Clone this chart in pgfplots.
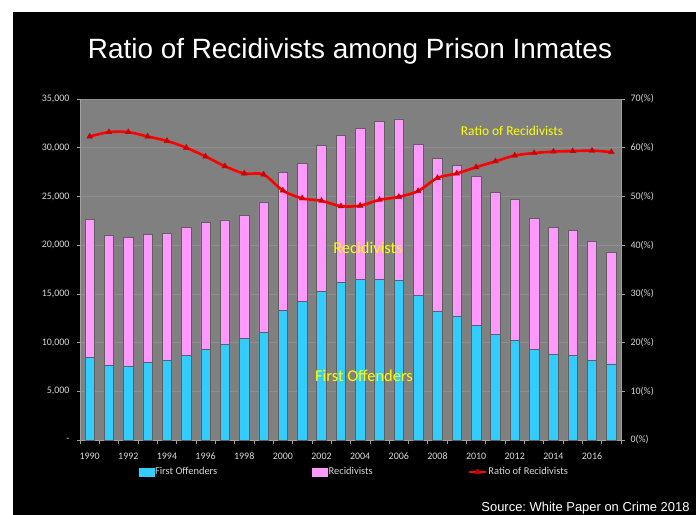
\documentclass[border=0pt]{standalone}
\usepackage{pgfplots}
\pgfplotsset{compat=1.18}
\usepackage{pgfplotstable}
\usepackage{fontspec}
\setmainfont{Carlito}[Numbers=Lining]
\newfontfamily\arialfont{Liberation Sans}
\definecolor{bgplot}{RGB}{128,128,128}
\definecolor{gridc}{RGB}{143,143,143}
\definecolor{fo}{RGB}{51,204,255}
\definecolor{rc}{RGB}{255,153,255}
\definecolor{barline}{RGB}{95,95,95}
\definecolor{lab}{RGB}{215,215,215}
\definecolor{ann}{RGB}{255,255,0}
\definecolor{axc}{RGB}{160,160,160}
\definecolor{ratioc}{RGB}{255,0,0}
\definecolor{markc}{RGB}{200,0,0}

\pgfplotstableread{
year first recid ratio
1990 8490 14160 62.3
1991 7700 13270 63.2
1992 7600 13170 63.2
1993 7940 13200 62.3
1994 8140 13070 61.4
1995 8660 13130 60.0
1996 9310 13060 58.2
1997 9820 12760 56.2
1998 10400 12620 54.7
1999 11050 13380 54.5
2000 13270 14170 51.2
2001 14200 14200 49.6
2002 15290 14920 49.1
2003 16180 15060 48.0
2004 16520 15500 48.1
2005 16520 16150 49.3
2006 16420 16530 49.9
2007 14850 15530 51.1
2008 13240 15630 53.8
2009 12730 15490 54.7
2010 11770 15260 56.0
2011 10810 14570 57.2
2012 10190 14510 58.4
2013 9310 13410 58.9
2014 8790 13070 59.2
2015 8690 12790 59.3
2016 8210 12150 59.4
2017 7800 11470 59.1
}\data

\begin{document}
\begin{tikzpicture}[x=1bp,y=1bp]
\path[use as bounding box] (0,0) rectangle (696,515);
\fill[white] (0,0) rectangle (696,515);
\fill[black] (13,0) rectangle (696,503);
\node[white, font=\arialfont\fontsize{28}{32}\selectfont] at (350,464) {Ratio of Recidivists among Prison Inmates};

\begin{axis}[
  at={(80bp,75bp)}, anchor=south west,
  scale only axis, width=541bp, height=341bp,
  xmin=1989.5, xmax=2017.5, ymin=0, ymax=35000,
  scaled y ticks=false,
  ybar stacked, bar width=9.5bp,
  axis background/.style={fill=bgplot},
  axis x line*=bottom, axis y line*=left,
  axis line style={draw=axc, line width=0.6bp},
  tick align=outside,
  xtick={1990,1992,...,2016},
  xticklabels={1990,1992,1994,1996,1998,2000,2002,2004,2006,2008,2010,2012,2014,2016},
  x tick style={draw=none},
  minor xtick={1989.5,1990.5,...,2017.5},
  minor x tick style={draw=axc, line width=0.6bp},
  minor tick length=4bp,
  major tick length=3bp,
  ytick={0,5000,...,35000},
  yticklabels={-,{5,000},{10,000},{15,000},{20,000},{25,000},{30,000},{35,000}},
  y tick style={draw=axc, line width=0.6bp},
  ymajorgrids, major grid style={draw=gridc, line width=0.6bp},
  ticklabel style={font=\fontsize{10}{12}\selectfont, text=lab},
  xticklabel style={yshift=-6bp, text height=7bp, text depth=1bp},
  yticklabel style={xshift=-4bp},
  clip=false,
]
\addplot[fill=fo, draw=barline, line width=0.6bp] table[x=year,y=first]{\data};
\addplot[fill=rc, draw=barline, line width=0.6bp] table[x=year,y=recid]{\data};
\end{axis}

\begin{axis}[
  at={(80bp,75bp)}, anchor=south west,
  scale only axis, width=541bp, height=341bp,
  xmin=1989.5, xmax=2017.5, ymin=0, ymax=70,
  axis x line=none, axis y line*=right,
  axis line style={draw=axc, line width=0.6bp},
  tick align=outside, major tick length=4bp,
  ytick={0,10,...,70},
  yticklabels={0(\%),10(\%),20(\%),30(\%),40(\%),50(\%),60(\%),70(\%)},
  y tick style={draw=axc, line width=0.6bp},
  ticklabel style={font=\fontsize{10}{12}\selectfont, text=lab},
  yticklabel style={xshift=2bp},
  legend columns=3,
  legend style={at={(0.108,-0.094)}, anchor=west, draw=none, fill=none,
    text=lab, font=\fontsize{10.5}{12}\selectfont, inner sep=0pt,
    nodes={inner sep=1bp},
    /tikz/every even column/.append style={column sep=94bp}},
  legend cell align=left,
  clip=false,
]
\addlegendimage{legend image code/.code={\fill[fo] (0bp,-3.8bp) rectangle (15bp,3.8bp);}}
\addlegendentry{First Offenders}
\addlegendimage{legend image code/.code={\fill[rc] (0bp,-3.8bp) rectangle (15bp,3.8bp);}}
\addlegendentry{Recidivists}
\addplot[ratioc, line width=2.6bp, smooth, mark=triangle*, mark size=3.3bp,
  mark options={fill=markc, draw=markc, line width=0.4bp, solid}]
  table[x=year,y=ratio]{\data};
\addlegendentry{Ratio of Recidivists}
\end{axis}

\node[ann, font=\fontsize{13.5}{16}\selectfont] at (512,384) {Ratio of Recidivists};
\node[ann, font=\fontsize{16.5}{19}\selectfont] at (368,267) {Recidivists};
\node[ann, font=\fontsize{16.5}{19}\selectfont] at (364,139) {First Offenders};
\node[white, anchor=base east, font=\arialfont\fontsize{13}{15}\selectfont] at (693,3.5) {Source:\ White\ Paper\ on\ Crime 2018};
\end{tikzpicture}
\end{document}
